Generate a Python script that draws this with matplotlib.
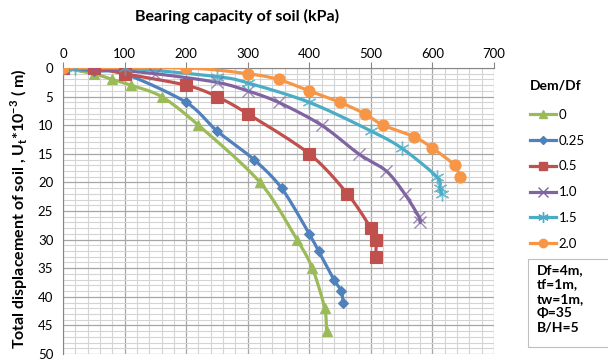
import numpy as np
import matplotlib
matplotlib.use("Agg")
import matplotlib.pyplot as plt
from matplotlib.lines import Line2D
from matplotlib.patches import Rectangle

# Bearing capacity (kPa) vs. total displacement (x10^-3 m) for each Dem/Df ratio
series_labels = ["0", "0.25", "0.5", "1.0", "1.5", "2.0"]

q_0 = [0, 50, 80, 110, 160, 220, 320, 380, 405, 425, 428]
u_0 = [0, 1, 2, 3, 5, 10, 20, 30, 35, 42, 46]

q_025 = [0, 50, 100, 200, 250, 310, 355, 400, 415, 440, 452, 455]
u_025 = [0, 0.5, 1, 6, 11, 16, 21, 29, 32, 37, 39, 41]

q_05 = [0, 50, 100, 200, 250, 300, 400, 462, 500, 508, 508]
u_05 = [0, 0, 1, 3, 5, 8, 15, 22, 28, 30, 33]

q_10 = [0, 50, 150, 250, 300, 350, 420, 480, 525, 555, 578, 580]
u_10 = [0, 0, 1, 2.5, 4, 6, 10, 15, 18, 22, 26, 27]

q_15 = [0, 20, 100, 250, 300, 400, 500, 550, 607, 612, 615]
u_15 = [0, 0, 0, 1.5, 2.6, 6, 11, 14, 19, 21, 22]

q_20 = [0, 200, 300, 350, 400, 450, 490, 520, 570, 600, 636, 644]
u_20 = [0, 0, 1, 2, 4, 6, 8, 10, 12, 14, 17, 19]

series_q = [q_0, q_025, q_05, q_10, q_15, q_20]
series_u = [u_0, u_025, u_05, u_10, u_15, u_20]

colors = ["#9BBB59", "#4F81BD", "#C0504D", "#8064A2", "#4BACC6", "#F79646"]
markers = ["^", "D", "s", "x", (6, 2, 0), "o"]
msizes = [7, 5, 8, 9, 10, 8]

note_lines = ["Df=4m,", "tf=1m,", "tw=1m,", "\u03A6=35", "B/H=5"]


def smooth(x, y, n=20, xs=700.0, ys=50.0):
    """Catmull-Rom curve through the points (in scaled space)."""
    x = np.asarray(x, float) / xs
    y = np.asarray(y, float) / ys
    pts = np.column_stack([x, y])
    keep = [0]
    for i in range(1, len(pts)):
        if np.hypot(*(pts[i] - pts[keep[-1]])) > 1e-9:
            keep.append(i)
    pts = pts[keep]
    if len(pts) < 3:
        return pts[:, 0] * xs, pts[:, 1] * ys
    P = np.vstack([2 * pts[0] - pts[1], pts, 2 * pts[-1] - pts[-2]])
    out = []
    t = np.linspace(0, 1, n, endpoint=False)[:, None]
    for i in range(1, len(P) - 2):
        p0, p1, p2, p3 = P[i - 1], P[i], P[i + 1], P[i + 2]
        m1 = (p2 - p0) / 2 * 0.9
        m2 = (p3 - p1) / 2 * 0.9
        h00 = 2 * t**3 - 3 * t**2 + 1
        h10 = t**3 - 2 * t**2 + t
        h01 = -2 * t**3 + 3 * t**2
        h11 = t**3 - t**2
        out.append(h00 * p1 + h10 * m1 + h01 * p2 + h11 * m2)
    out.append(pts[-1][None, :])
    c = np.vstack(out)
    return c[:, 0] * xs, c[:, 1] * ys


plt.rcParams["font.family"] = ["Lato", "DejaVu Sans"]
plt.rcParams["mathtext.fontset"] = "custom"
plt.rcParams["mathtext.rm"] = "Lato"
plt.rcParams["mathtext.bf"] = "Lato:bold"

W, H = 608, 361
fig = plt.figure(figsize=(W / 100, H / 100), dpi=100)
ax = fig.add_axes([63 / W, 1 - 354 / H, (494 - 63) / W, (354 - 68) / H])

ax.set_xlim(0, 700)
ax.set_ylim(50, 0)
ax.xaxis.tick_top()
ax.set_xticks(np.arange(0, 701, 100))
ax.set_yticks(np.arange(0, 51, 5))
ax.set_xticks(np.arange(0, 701, 20), minor=True)
ax.set_yticks(np.arange(0, 51, 1), minor=True)
ax.tick_params(axis="both", which="major", labelsize=9.5, length=4,
               color="#868686", pad=2)
ax.tick_params(axis="both", which="minor", length=0)
ax.tick_params(axis="y", length=0, pad=7)
ax.grid(which="minor", color="#d4d4d4", linewidth=0.8)
ax.grid(which="major", color="#a6a6a6", linewidth=0.9)
ax.set_axisbelow(True)
for side in ["right", "bottom"]:
    ax.spines[side].set_visible(False)
ax.spines["top"].set_color("#868686")
ax.spines["left"].set_color("#868686")

for q, u, col, mk, ms in zip(series_q, series_u, colors, markers, msizes):
    sx, sy = smooth(q, u)
    ax.plot(sx, sy, color=col, linewidth=2.3, solid_capstyle="round", zorder=3)
    thin = mk in ("x",) or isinstance(mk, tuple)
    ax.plot(q, u, linestyle="none", marker=mk, markersize=ms, color=col,
            markeredgewidth=1.0 if thin else 0.8, zorder=4,
            alpha=0.75 if thin else 1.0)

fig.text(237 / W, 1 - 16 / H, "Bearing capacity of soil (kPa)",
         ha="center", va="center", fontsize=11.5, fontweight="bold")
fig.text(19 / W, 1 - 209 / H,
         r"Total displacement of soil , U$_\mathbf{t}$*10$^{\mathbf{-3}}$ ( m)",
         rotation=90, ha="center", va="center", fontsize=11.5, fontweight="bold")

# legend
handles = [Line2D([0], [0], color=c, linewidth=2.3, marker=m,
                  markersize=s * 0.75, markeredgewidth=1.0)
           for c, m, s in zip(colors, markers, msizes)]
leg = fig.legend(handles, series_labels, title="Dem/Df",
                 loc="upper left", bbox_to_anchor=(530 / W, 1 - 80 / H),
                 frameon=False, fontsize=9.5, handlelength=2.0,
                 handletextpad=0.15, labelspacing=1.05, borderaxespad=0,
                 borderpad=0)
leg.get_title().set_fontweight("bold")
leg.get_title().set_fontsize(10)
leg._legend_box.align = "left"
leg._legend_box.sep = 12

# parameter box
fig.patches.append(Rectangle((528 / W, 1 - 347 / H), 84 / W, 88 / H,
                             transform=fig.transFigure, facecolor="white",
                             edgecolor="#bfbfbf", linewidth=0.8))
for i, line in enumerate(note_lines):
    fig.text(537 / W, 1 - (270 + 14.5 * i) / H, line, ha="left", va="center",
             fontsize=10, fontweight="bold")

fig.savefig("out.png", dpi=100)
